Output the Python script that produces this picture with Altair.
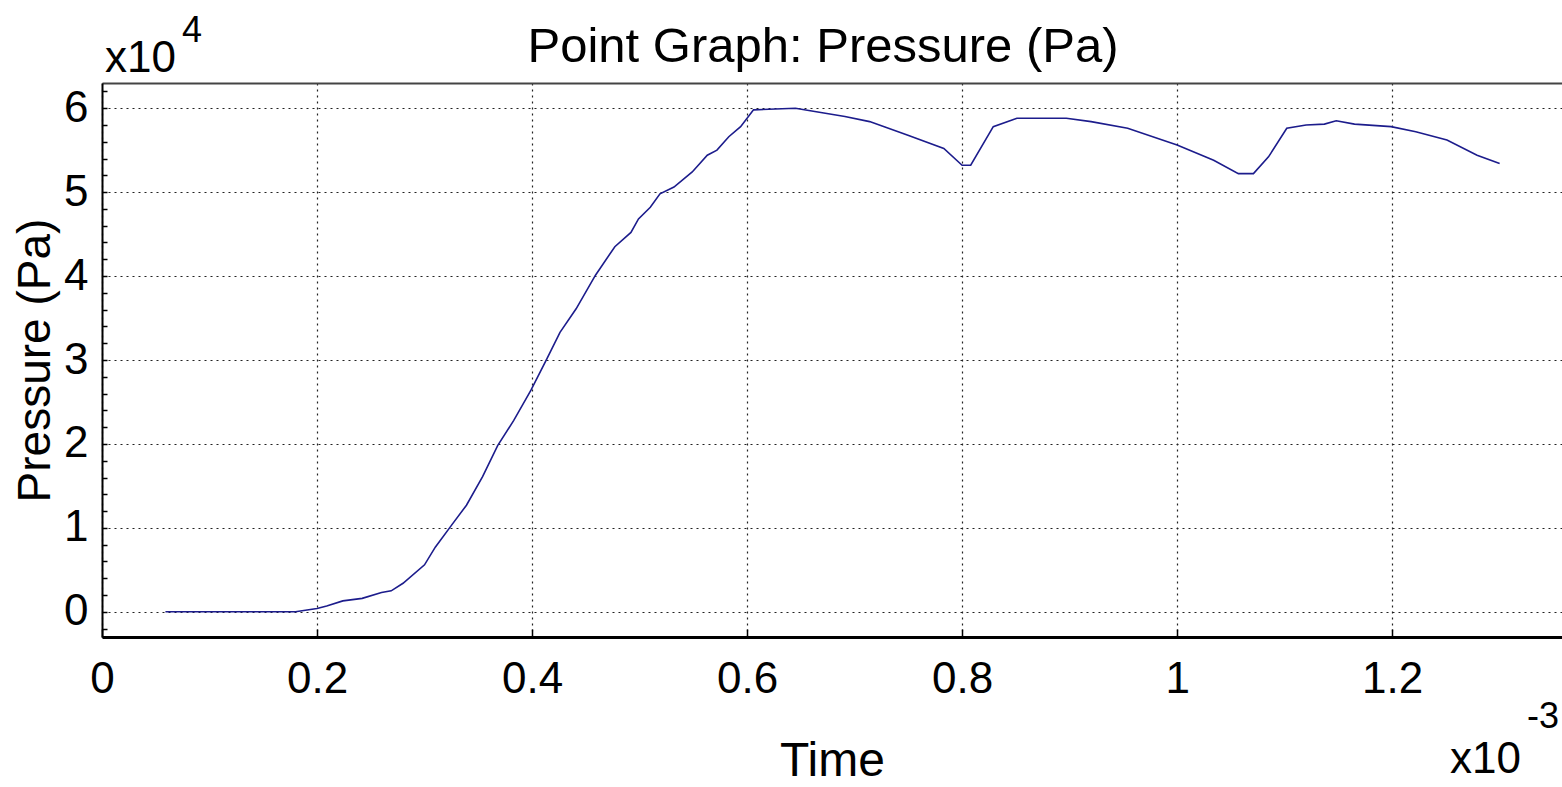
import altair as alt
import pandas as pd

# Time in units of 1e-3 s, pressure in units of 1e4 Pa
time_ms = [0.059, 0.18, 0.2, 0.209, 0.224, 0.242, 0.26, 0.269, 0.28, 0.3,
           0.31, 0.325, 0.339, 0.354, 0.368, 0.383, 0.399, 0.414, 0.426, 0.441,
           0.459, 0.477, 0.492, 0.499, 0.51, 0.519, 0.532, 0.549, 0.563, 0.572,
           0.583, 0.594, 0.606, 0.645, 0.663, 0.691, 0.714, 0.749, 0.783, 0.800,
           0.808, 0.829, 0.851, 0.897, 0.920, 0.954, 1.0, 1.034, 1.057, 1.071,
           1.085, 1.102, 1.120, 1.137, 1.148, 1.165, 1.199, 1.222, 1.251, 1.279,
           1.300]
pressure_e4 = [0, 0, 0.04, 0.07, 0.13, 0.16, 0.23, 0.25, 0.34, 0.56,
               0.77, 1.03, 1.27, 1.61, 1.98, 2.28, 2.64, 3.02, 3.33, 3.61,
               4.01, 4.35, 4.52, 4.68, 4.82, 4.98, 5.06, 5.24, 5.44, 5.50,
               5.66, 5.78, 5.98, 6.0, 5.96, 5.90, 5.84, 5.68, 5.52, 5.32,
               5.32, 5.78, 5.88, 5.88, 5.84, 5.76, 5.56, 5.38, 5.22, 5.22,
               5.42, 5.76, 5.80, 5.81, 5.85, 5.81, 5.78, 5.72, 5.62, 5.44,
               5.34]

x_ticks = [0, 0.2, 0.4, 0.6, 0.8, 1, 1.2]
y_ticks = [0, 1, 2, 3, 4, 5, 6]
y_minor = [round(-0.2 + 0.2 * i, 1) for i in range(33)]

df = pd.DataFrame({"t": time_ms, "p": pressure_e4})

FONT = "Liberation Sans"
W, H = 1460, 554
xscale = alt.Scale(domain=[0, 1.358], nice=False, zero=False)
yscale = alt.Scale(domain=[-0.3, 6.3], nice=False, zero=False)

main = alt.Chart(df).mark_line(color="#1c1c8c", strokeWidth=1.6).encode(
    x=alt.X("t:Q", scale=xscale, title="Time",
            axis=alt.Axis(values=x_ticks, format=".1~f", ticks=False,
                          labelFont=FONT, labelFontSize=44, labelColor="black",
                          labelPadding=20, labelFlush=False,
                          domainColor="black", domainWidth=3,
                          grid=True, gridColor="#222", gridDash=[2, 4], gridWidth=1.2,
                          titleFont=FONT, titleFontSize=48, titleFontWeight="normal",
                          titleColor="black", titleX=730, titleY=138,
                          titleBaseline="alphabetic", titleAlign="center")),
    y=alt.Y("p:Q", scale=yscale, title="Pressure (Pa)",
            axis=alt.Axis(values=y_ticks, format="d", ticks=False,
                          labelFont=FONT, labelFontSize=44, labelColor="black",
                          labelPadding=14, labelFlush=False,
                          domainColor="black", domainWidth=2,
                          grid=True, gridColor="#222", gridDash=[2, 4], gridWidth=1.2,
                          titleFont=FONT, titleFontSize=46, titleFontWeight="normal",
                          titleColor="black", titleX=-67, titleY=277,
                          titleAngle=270, titleBaseline="middle", titleAlign="center")),
)

top_border = alt.Chart(df).mark_line(strokeOpacity=0).encode(
    x=alt.X("t:Q", scale=xscale,
            axis=alt.Axis(orient="top", labels=False, ticks=False, grid=False,
                          domainColor="#444", domainWidth=2, title=None)),
    y=alt.Y("p:Q", scale=yscale, axis=None),
)

x_inner_ticks = alt.Chart(df).mark_line(strokeOpacity=0).encode(
    x=alt.X("t:Q", scale=xscale,
            axis=alt.Axis(orient="top", offset=-H, values=x_ticks, labels=False,
                          ticks=True, tickSize=8, tickColor="black", tickWidth=1.5,
                          domain=False, grid=False, title=None)),
    y=alt.Y("p:Q", scale=yscale, axis=None),
)

y_inner_ticks = alt.Chart(df).mark_line(strokeOpacity=0).encode(
    x=alt.X("t:Q", scale=xscale, axis=None),
    y=alt.Y("p:Q", scale=yscale,
            axis=alt.Axis(orient="right", offset=-W, values=y_minor, labels=False,
                          ticks=True, tickSize=5, tickColor="black", tickWidth=1.5,
                          domain=False, grid=False, title=None)),
)

one = alt.Data(values=[{"a": 1}])
def txt(s, size, x, y, align="left"):
    return alt.Chart(one).mark_text(text=s, font=FONT, fontSize=size, color="black",
                                    align=align, baseline="alphabetic").encode(
        x=alt.value(x), y=alt.value(y))

annotations = [
    txt("Point Graph: Pressure (Pa)", 49, 721, -21, align="center"),
    txt("x10", 44, 3, -11),
    txt("4", 36, 80, -41),
    txt("x10", 44, 1348, 690),
    txt("-3", 36, 1425, 645),
]

chart = alt.layer(main, top_border, x_inner_ticks, y_inner_ticks, *annotations).resolve_axis(
    x="independent", y="independent"
).properties(
    width=W, height=H,
    padding={"left": 102, "top": 83, "right": 0, "bottom": 150},
    autosize=alt.AutoSizeParams(type="none"),
    background="white",
).configure_view(strokeWidth=0)

chart.save("out.html", embed_options={"renderer": "svg", "actions": False})
